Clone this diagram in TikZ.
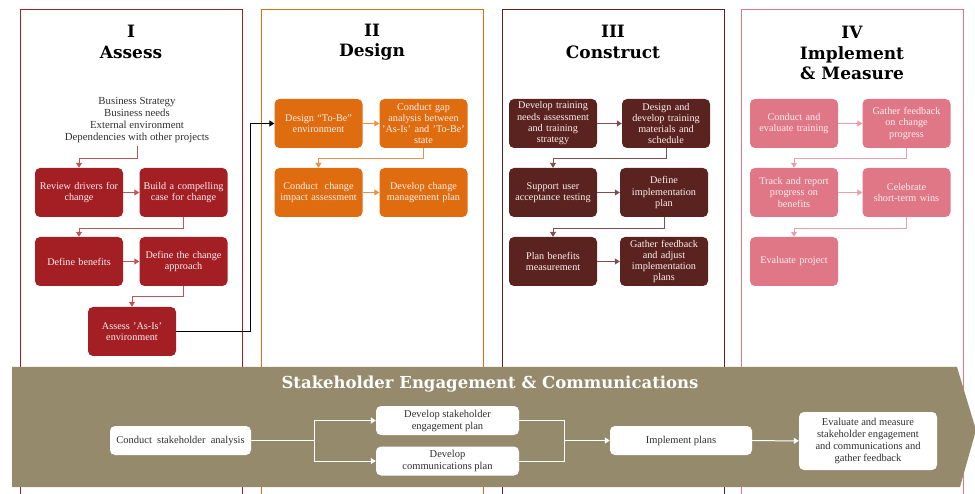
\documentclass[tikz,border=0pt]{standalone}
\usepackage{fontspec}
\setmainfont{Liberation Serif}
\newfontfamily\headfont{DejaVu Serif}
\usetikzlibrary{arrows.meta}

\definecolor{assessred}{HTML}{A31F24}
\definecolor{designorange}{HTML}{DF6C0F}
\definecolor{constructbrown}{HTML}{5B2320}
\definecolor{measurepink}{HTML}{E07787}
\definecolor{bannerolive}{HTML}{958A6B}
\definecolor{boxtext}{HTML}{FBEFEF}
\definecolor{darktext}{HTML}{303030}

\tikzset{
    phase/.style={rounded corners=5pt, minimum width=88pt, minimum height=49pt,
        text width=86pt, align=center, inner sep=1pt, text=boxtext,
        font=\fontsize{10.2}{11.3}\selectfont},
    colhead/.style={align=center, font=\headfont\bfseries\fontsize{17}{20.5}\selectfont},
    wbox/.style={fill=white, rounded corners=5pt, minimum height=29pt,
        align=center, inner sep=1pt, text=darktext,
        font=\fontsize{10.5}{12}\selectfont},
    tip/.style={-{Triangle[length=5pt, width=6pt]}},
}

\begin{document}
\begin{tikzpicture}[x=1pt, y=-1pt]

    \useasboundingbox (0,0) rectangle (975,494);

    % ---- Parameters ----
    \def\colTop{10}    % top edge of the column frames
    \def\colW{222}     % column frame width
    \def\rowA{123.5}   % centre of first box row
    \def\rowB{192.5}   % centre of second box row
    \def\rowC{261.5}   % centre of third box row

    % ---- Column frames (open at the bottom) ----
    \foreach \xl/\cl in {20/assessred, 261/designorange, 502/constructbrown, 741/measurepink}
        \draw[\cl, line width=1pt] (\xl,500) -- (\xl,\colTop) -- ++(\colW,0) -- ++(0,490);

    % ---- Column headings ----
    \node[colhead] (headI) at (131,42) {I\\Assess};
    \node[colhead] (headII) at (372,42) {II\\Design};
    \node[colhead] (headIII) at (613,42) {III\\Construct};
    \node[colhead] (headIV) at (852,53) {IV\\Implement\\\& Measure};

    % ---- I  Assess ----
    \node[align=center, text=darktext, font=\fontsize{10.8}{11.8}\selectfont]
        (drivers) at (137,120) {Business Strategy\\Business needs\\External environment\\Dependencies with other projects};
    \node[phase, fill=assessred] (review) at (79,\rowB) {Review drivers for\\change};
    \node[phase, fill=assessred] (build) at (183.5,\rowB) {Build a compelling\\case for change};
    \node[phase, fill=assessred] (benefits) at (79,\rowC) {Define benefits};
    \node[phase, fill=assessred] (approach) at (183.5,\rowC) {Define the change\\approach};
    \node[phase, fill=assessred] (asis) at (132,331.5) {Assess 'As-Is'\\environment};

    \begin{scope}[assessred!75!white, line width=1pt, tip]
        \draw (drivers.south) -- ++(0,13) -| (review.north);
        \draw (review) -- (build);
        \draw (build.south) -- ++(0,11) -| (benefits.north);
        \draw (benefits) -- (approach);
        \draw (approach.south) -- ++(0,10) -| (asis.north);
    \end{scope}

    % ---- II  Design ----
    \node[phase, fill=designorange] (tobe) at (318.5,\rowA) {Design ``To-Be''\\environment};
    \node[phase, fill=designorange] (gap) at (423.5,\rowA) {Conduct gap\\analysis between\\'As-Is' and 'To-Be'\\state};
    \node[phase, fill=designorange] (impact) at (318.5,\rowB) {Conduct\ \ change\\impact assessment};
    \node[phase, fill=designorange] (changeplan) at (423.5,\rowB) {Develop change\\management plan};

    % hand-over from Assess into Design
    \draw[black, line width=1pt, tip] (asis.east) -- (250,331.5) |- (tobe.west);

    \begin{scope}[designorange!75!white, line width=1pt, tip]
        \draw (tobe) -- (gap);
        \draw (gap.south) -- ++(0,10) -| (impact.north);
        \draw (impact) -- (changeplan);
    \end{scope}

    % ---- III  Construct ----
    \node[phase, fill=constructbrown] (needs) at (553,\rowA) {Develop training\\needs assessment\\and training\\strategy};
    \node[phase, fill=constructbrown] (materials) at (666,\rowA) {Design and\\develop training\\materials and\\schedule};
    \node[phase, fill=constructbrown] (uat) at (553,\rowB) {Support user\\acceptance testing};
    \node[phase, fill=constructbrown] (implplan) at (664,\rowB) {Define\\implementation\\plan};
    \node[phase, fill=constructbrown] (measure) at (553,\rowC) {Plan benefits\\measurement};
    \node[phase, fill=constructbrown] (adjust) at (664,\rowC) {Gather feedback\\and adjust\\implementation\\plans};

    \begin{scope}[constructbrown!80!white, line width=1pt, tip]
        \draw (needs) -- (materials);
        \draw (materials.south) -- ++(0,10) -| (uat.north);
        \draw (uat) -- (implplan);
        \draw (implplan.south) -- ++(0,11) -| (measure.north);
        \draw (measure) -- (adjust);
    \end{scope}

    % ---- IV  Implement & Measure ----
    \node[phase, fill=measurepink] (training) at (794,\rowA) {Conduct and\\evaluate training};
    \node[phase, fill=measurepink] (feedback) at (906.5,\rowA) {Gather feedback\\on change\\progress};
    \node[phase, fill=measurepink] (track) at (794,\rowB) {Track and report\\progress on\\benefits};
    \node[phase, fill=measurepink] (wins) at (906.5,\rowB) {Celebrate\\short-term wins};
    \node[phase, fill=measurepink] (evalproj) at (794,\rowC) {Evaluate project};

    \begin{scope}[measurepink!70!white, line width=1pt, tip]
        \draw (training) -- (feedback);
        \draw (feedback.south) -- ++(0,10) -| (track.north);
        \draw (track) -- (wins);
        \draw (wins.south) -- ++(0,11) -| (evalproj.north);
    \end{scope}

    % ---- Stakeholder banner ----
    \fill[bannerolive] (12,367) -- (957,367) -- (976,430) -- (960,487) -- (12,487) -- cycle;
    \node[text=white, font=\headfont\bfseries\fontsize{16.5}{19}\selectfont]
        (bannertitle) at (490,384) {Stakeholder Engagement \& Communications};

    \node[wbox, minimum width=141pt] (analysis) at (180.5,440.5) {Conduct\ \ stakeholder\ \ analysis};
    \node[wbox, minimum width=143pt] (engplan) at (447.5,420.5) {Develop stakeholder\\engagement plan};
    \node[wbox, minimum width=143pt] (complan) at (447.5,461) {Develop\\communications plan};
    \node[wbox, minimum width=142pt] (implement) at (681,440.5) {Implement plans};
    \node[wbox, minimum width=138pt, minimum height=58pt] (evaluate) at (868,441)
        {Evaluate and measure\\stakeholder engagement\\and communications and\\gather feedback};

    \begin{scope}[white, line width=1pt]
        \draw (analysis.east) -- (314,440.5) coordinate (split);
        \draw[tip] (split) |- (engplan.west);
        \draw[tip] (split) |- (complan.west);
        \draw (engplan.east) -- (564,420.5) coordinate (join) |- (complan.east);
        \draw[tip] (join |- implement.west) -- (implement.west);
        \draw[tip] (implement) -- (evaluate);
    \end{scope}

\end{tikzpicture}
\end{document}
